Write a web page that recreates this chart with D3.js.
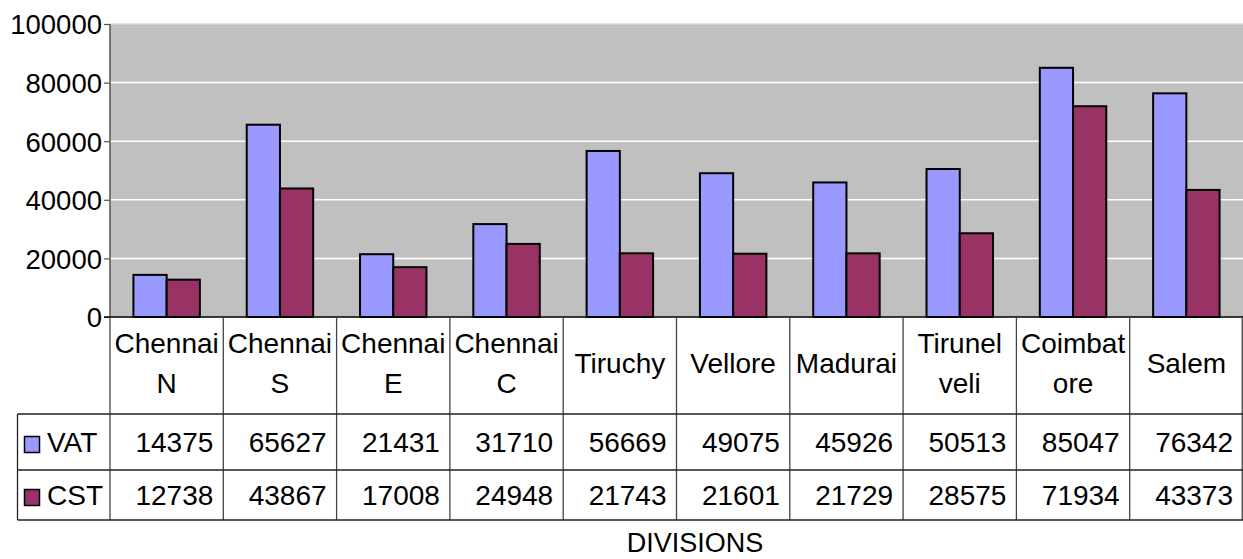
<!DOCTYPE html>
<html>
<head>
<meta charset="utf-8">
<script src="https://cdn.jsdelivr.net/npm/d3@7"></script>
<style>
  body { margin: 0; background: #fff; }
  text { font-family: "Liberation Sans", Arial, sans-serif; fill: #000; }
</style>
</head>
<body>
<div id="canvas"></div>
<script>
// chart data
var divisions = [["Chennai", "N"], ["Chennai", "S"], ["Chennai", "E"], ["Chennai", "C"],
                 ["Tiruchy"], ["Vellore"], ["Madurai"], ["Tirunel", "veli"], ["Coimbat", "ore"], ["Salem"]];
var seriesNames = ["VAT", "CST"];
var vat = [14375, 65627, 21431, 31710, 56669, 49075, 45926, 50513, 85047, 76342];
var cst = [12738, 43867, 17008, 24948, 21743, 21601, 21729, 28575, 71934, 43373];
var colors = ["#9999FF", "#993366"];
var yTicks = [0, 20000, 40000, 60000, 80000, 100000];

var width = 1243, height = 559;
var plotLeft = 110, plotRight = 1243, plotTop = 24, plotBottom = 317;
var rowTop = [317, 414, 470, 520]; // label row, VAT row, CST row, bottom
var tableLeft = 17.5;

var svg = d3.select("#canvas")
            .append("svg")
                .attr("width", width)
                .attr("height", height);

var keys = divisions.map(function(d, i) { return "c" + i; });

var xScale = d3.scaleBand()
            .domain(keys)
            .range([plotLeft, plotRight]);

var x1 = d3.scaleBand()
            .domain(seriesNames)
            .range([0, xScale.bandwidth()])
            .paddingInner(0)
            .paddingOuter(0.705);

var yScale = d3.scaleLinear()
            .domain([0, 100000])
            .range([plotBottom, plotTop]);

// plot background
svg.append("rect")
    .attr("x", plotLeft).attr("y", plotTop)
    .attr("width", plotRight - plotLeft).attr("height", plotBottom - plotTop)
    .style("fill", "#C0C0C0");

// gridlines
svg.selectAll(".grid")
    .data(yTicks.filter(function(t) { return t > 0; }))
    .enter().append("line")
    .attr("x1", plotLeft).attr("x2", plotRight)
    .attr("y1", function(d) { return yScale(d); })
    .attr("y2", function(d) { return yScale(d); })
    .style("stroke", function(d) { return d == 100000 ? "#d8d8d8" : "#ffffff"; })
    .style("stroke-width", 1.5);

// y axis
var yAxis = d3.axisLeft()
            .scale(yScale)
            .tickValues(yTicks)
            .tickSize(6)
            .tickPadding(2)
            .tickFormat(d3.format("d"));

var yG = svg.append("g")
    .attr("transform", "translate(" + plotLeft + ",0)")
    .call(yAxis);
yG.select(".domain").remove();
yG.selectAll("line").style("stroke", "#555").style("stroke-width", 1.2);
yG.selectAll("text")
    .attr("font-size", "27.5px")
    .attr("font-family", "'Liberation Sans', Arial, sans-serif")
    .attr("dy", "0.36em");

svg.append("line")
    .attr("x1", plotLeft).attr("x2", plotLeft)
    .attr("y1", plotTop).attr("y2", plotBottom)
    .style("stroke", "#555").style("stroke-width", 1.5);

// bars
var series = [vat, cst];
series.forEach(function(values, s) {
    svg.selectAll(".bar" + s)
        .data(values)
        .enter().append("rect")
        .attr("class", "bar" + s)
        .attr("x", function(d, i) { return xScale(keys[i]) + x1(seriesNames[s]); })
        .attr("y", function(d) { return yScale(d); })
        .attr("width", x1.bandwidth())
        .attr("height", function(d) { return plotBottom - yScale(d); })
        .style("fill", colors[s])
        .style("stroke", "#000")
        .style("stroke-width", 2);
});

// zero line
svg.append("line")
    .attr("x1", plotLeft - 6).attr("x2", plotRight)
    .attr("y1", plotBottom).attr("y2", plotBottom)
    .style("stroke", "#000").style("stroke-width", 1.5);

// data table grid
var tableG = svg.append("g");
var bounds = keys.map(function(k) { return xScale(k); }).concat([plotRight - 0.75]);
tableG.selectAll(".vline")
    .data(bounds)
    .enter().append("line")
    .attr("x1", function(d) { return d; }).attr("x2", function(d) { return d; })
    .attr("y1", rowTop[0]).attr("y2", rowTop[3])
    .style("stroke", "#444").style("stroke-width", 1.3);

tableG.selectAll(".hline")
    .data(rowTop.slice(1))
    .enter().append("line")
    .attr("x1", tableLeft).attr("x2", plotRight)
    .attr("y1", function(d) { return d; }).attr("y2", function(d) { return d; })
    .style("stroke", "#222").style("stroke-width", 1.3);

tableG.append("line")
    .attr("x1", tableLeft).attr("x2", tableLeft)
    .attr("y1", rowTop[1]).attr("y2", rowTop[3])
    .style("stroke", "#222").style("stroke-width", 1.3);

// category labels
var labelG = svg.selectAll(".cat")
    .data(divisions)
    .enter().append("text")
    .attr("class", "cat")
    .attr("text-anchor", "middle")
    .attr("font-size", "28px")
    .attr("x", function(d, i) { return xScale(keys[i]) + xScale.bandwidth() / 2; })
    .attr("y", function(d) { return d.length > 1 ? 353 : 373; });
labelG.each(function(d, i) {
    var t = d3.select(this);
    var cx = xScale(keys[i]) + xScale.bandwidth() / 2;
    d.forEach(function(line, j) {
        t.append("tspan")
            .attr("x", cx)
            .attr("dy", j == 0 ? 0 : 40)
            .text(line);
    });
});

// value rows
var rowBase = [452, 505];
series.forEach(function(values, s) {
    svg.selectAll(".val" + s)
        .data(values)
        .enter().append("text")
        .attr("class", "val" + s)
        .attr("text-anchor", "end")
        .attr("font-size", "28px")
        .attr("x", function(d, i) { return xScale(keys[i]) + xScale.bandwidth() - 10; })
        .attr("y", rowBase[s])
        .text(function(d) { return d; });

    // legend key
    svg.append("rect")
        .attr("x", 24.5).attr("y", rowBase[s] - 15.5)
        .attr("width", 15).attr("height", 16)
        .style("fill", colors[s])
        .style("stroke", "#000").style("stroke-width", 1.5);
    svg.append("text")
        .attr("x", 47)
        .attr("y", rowBase[s])
        .attr("font-size", "28px")
        .text(seriesNames[s]);
});

// axis title
svg.append("text")
    .attr("x", 695)
    .attr("y", 552)
    .attr("text-anchor", "middle")
    .attr("font-size", "27px")
    .text("DIVISIONS");
</script>
</body>
</html>
